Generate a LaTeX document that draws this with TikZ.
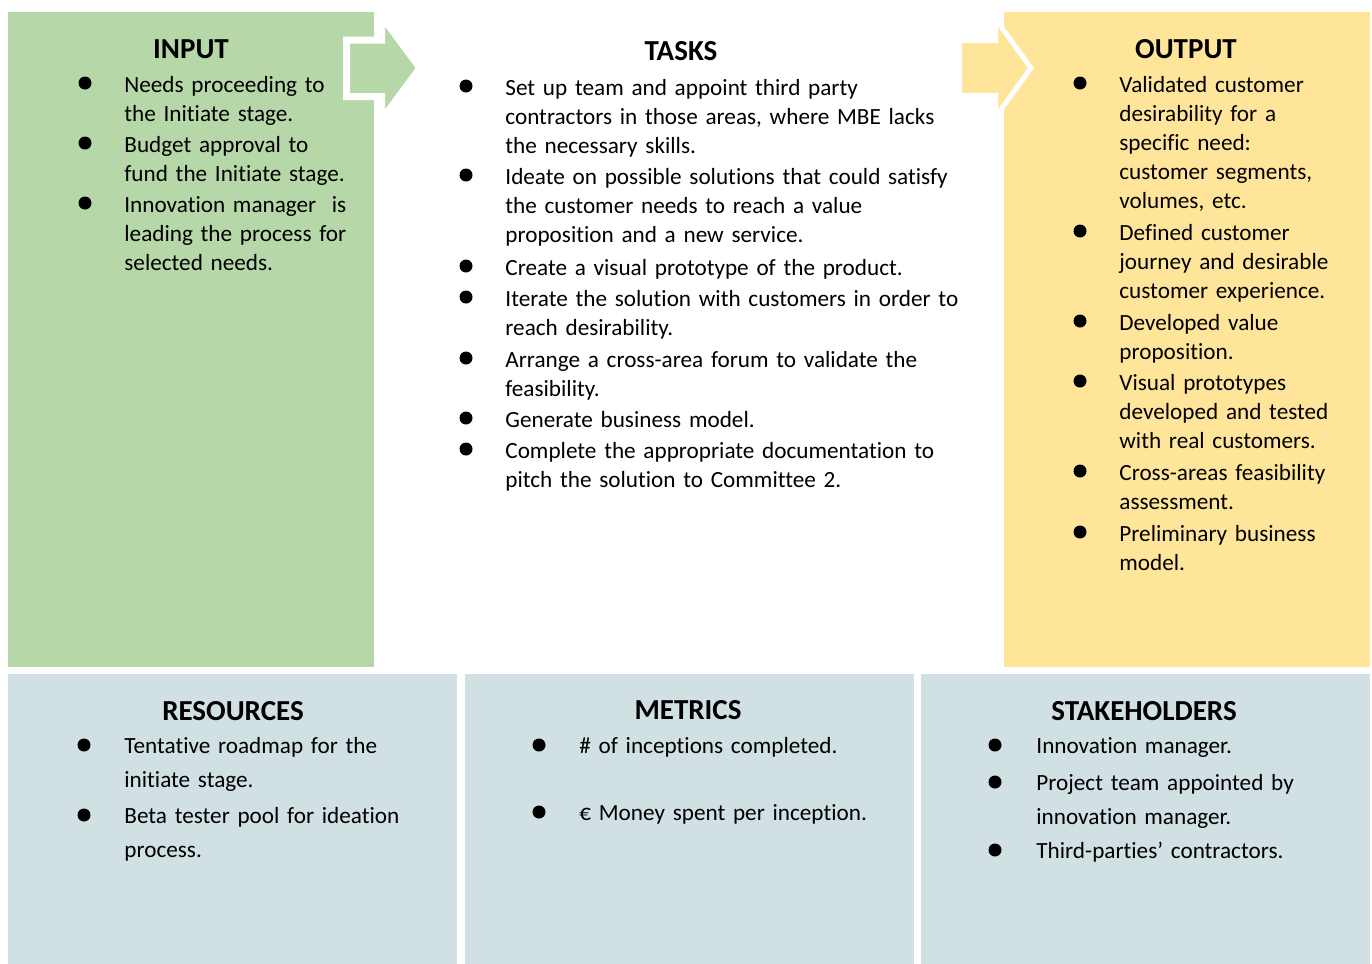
\documentclass[tikz,border=0pt]{standalone}
\usepackage{fontspec}
\setmainfont{Carlito}[Ligatures=NoCommon]
\usepackage{xcolor}
\definecolor{ingreen}{HTML}{B6D7A8}
\definecolor{outyellow}{HTML}{FFE599}
\definecolor{infoblue}{HTML}{D0E0E3}
\tikzset{
  heading/.style={anchor=base, inner sep=0pt,
    font=\fontsize{14.5}{17}\selectfont\bfseries},
  item/.style={anchor=base west, inner sep=0pt, text width=240pt,
    align=left, font=\fontsize{11.6}{14.5}\selectfont},
  wideitem/.style={item, font=\fontsize{11.6}{17}\selectfont},
  dot/.style={circle, fill=black, inner sep=0pt, minimum size=6.5pt},
  flowarrow/.style={draw=white, line join=miter}
}

\begin{document}
\begin{tikzpicture}[x=0.5pt, y=-0.5pt]
  \useasboundingbox (0,0) rectangle (1372,964);

  % Panels
  \fill[ingreen] (8,12) rectangle (374,667);
  \fill[outyellow] (1004,12) rectangle (1370,667);
  \fill[infoblue] (8,674) rectangle (457,964);
  \fill[infoblue] (465,674) rectangle (914,964);
  \fill[infoblue] (921,674) rectangle (1370,964);

  % Arrows
  \draw[flowarrow, fill=ingreen, line width=3.5pt]
    (346.5,40) -- (381.5,40) -- (381.5,16) -- (420,68) -- (381.5,120)
    -- (381.5,96.5) -- (346.5,96.5) -- cycle;
  \draw[flowarrow, fill=outyellow, line width=2.5pt]
    (959.5,40.5) -- (995.5,40.5) -- (995.5,19) -- (1031,68) -- (995.5,117)
    -- (995.5,95.5) -- (959.5,95.5) -- cycle;

  % Input
  \node[heading] (inhead) at (191,58) {INPUT};
  \node[dot] (indot1) at (85,83) {};
  \node[item] (in1) at (124,92) {Needs proceeding to\\the Initiate stage.};
  \node[dot] (indot2) at (85,143) {};
  \node[item] (in2) at (124,152) {Budget approval to\\fund the Initiate stage.};
  \node[dot] (indot3) at (85,203) {};
  \node[item] (in3) at (124,212) {Innovation manager\ \ is\\leading the process for\\selected needs.};

  % Tasks
  \node[heading] (taskhead) at (681,60) {TASKS};
  \node[dot] (tdot1) at (466,86) {};
  \node[item] (t1) at (505,95) {Set up team and appoint third party\\contractors in those areas, where MBE lacks\\the necessary skills.};
  \node[dot] (tdot2) at (466,175) {};
  \node[item] (t2) at (505,184) {Ideate on possible solutions that could satisfy\\the customer needs to reach a value\\proposition and a new service.};
  \node[dot] (tdot3) at (466,266) {};
  \node[item] (t3) at (505,275) {Create a visual prototype of the product.};
  \node[dot] (tdot4) at (466,297) {};
  \node[item] (t4) at (505,306) {Iterate the solution with customers in order to\\reach desirability.};
  \node[dot] (tdot5) at (466,358) {};
  \node[item] (t5) at (505,367) {Arrange a cross-area forum to validate the\\feasibility.};
  \node[dot] (tdot6) at (466,418) {};
  \node[item] (t6) at (505,427) {Generate business model.};
  \node[dot] (tdot7) at (466,449) {};
  \node[item] (t7) at (505,458) {Complete the appropriate documentation to\\pitch the solution to Committee 2.};

  % Output
  \node[heading] (outhead) at (1186,58) {OUTPUT};
  \node[dot] (odot1) at (1080,83) {};
  \node[item] (o1) at (1119,92) {Validated customer\\desirability for a\\specific need:\\customer segments,\\volumes, etc.};
  \node[dot] (odot2) at (1080,231) {};
  \node[item] (o2) at (1119,240) {Defined customer\\journey and desirable\\customer experience.};
  \node[dot] (odot3) at (1080,321) {};
  \node[item] (o3) at (1119,330) {Developed value\\proposition.};
  \node[dot] (odot4) at (1080,381) {};
  \node[item] (o4) at (1119,390) {Visual prototypes\\developed and tested\\with real customers.};
  \node[dot] (odot5) at (1080,471) {};
  \node[item] (o5) at (1119,480) {Cross-areas feasibility\\assessment.};
  \node[dot] (odot6) at (1080,532) {};
  \node[item] (o6) at (1119,541) {Preliminary business\\model.};

  % Resources
  \node[heading] (reshead) at (233,720) {RESOURCES};
  \node[dot] (rdot1) at (84,745) {};
  \node[wideitem] (r1) at (124,753) {Tentative roadmap for the\\initiate stage.};
  \node[dot] (rdot2) at (84,815) {};
  \node[wideitem] (r2) at (124,823) {Beta tester pool for ideation\\process.};

  % Metrics
  \node[heading] (methead) at (688,719) {METRICS};
  \node[dot] (mdot1) at (539,745) {};
  \node[wideitem] (m1) at (579,753) {\# of inceptions completed.};
  \node[dot] (mdot2) at (539,812) {};
  \node[wideitem] (m2) at (579,820) {€ Money spent per inception.};

  % Stakeholders
  \node[heading] (stakehead) at (1144,720) {STAKEHOLDERS};
  \node[dot] (sdot1) at (995,745) {};
  \node[wideitem] (s1) at (1036,753) {Innovation manager.};
  \node[dot] (sdot2) at (995,782) {};
  \node[wideitem] (s2) at (1036,790) {Project team appointed by\\innovation manager.};
  \node[dot] (sdot3) at (995,850) {};
  \node[wideitem] (s3) at (1036,858) {Third-parties’ contractors.};
\end{tikzpicture}
\end{document}
